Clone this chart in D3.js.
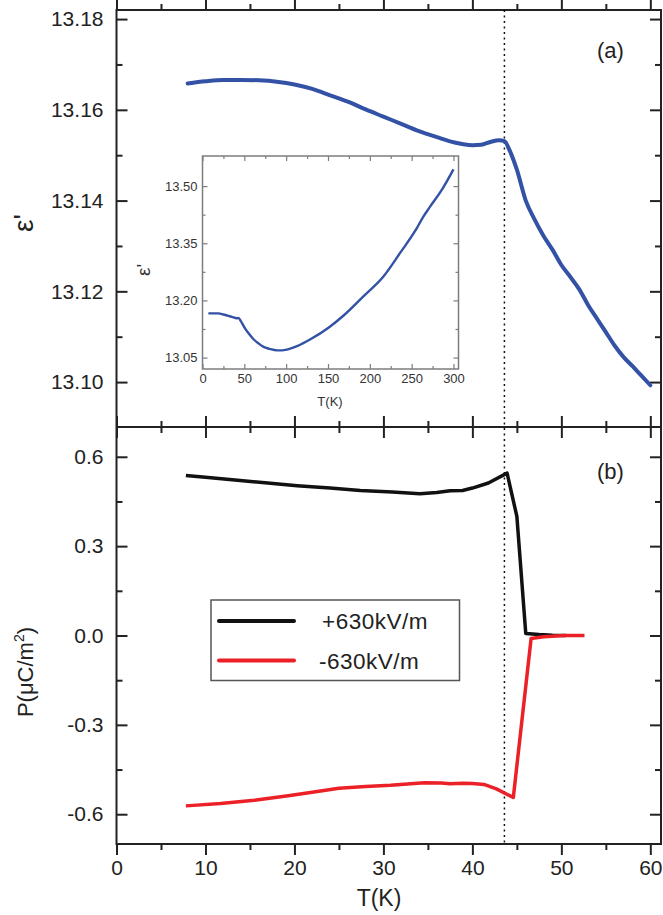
<!DOCTYPE html>
<html><head><meta charset="utf-8">
<script src="https://cdn.jsdelivr.net/npm/d3@7"></script>
<style>html,body{margin:0;padding:0;background:#fff;}svg{display:block;font-family:"Liberation Sans",Arial,sans-serif;}</style>
</head><body>
<svg id="c" width="663" height="915"></svg>
<script>
// ---- data ----
const epsT   = [8,10,12,14,16,18,20,22,24,26,28,30,32,34,36,38,39,40,41,42,43,43.6,44.2,45,46,47,48,49,50,51,52,53,54,55,56,57,58,59,60];
const epsVal = [13.1658,13.1663,13.1666,13.1666,13.1665,13.1662,13.1656,13.1646,13.1632,13.1618,13.1601,13.1585,13.1569,13.1553,13.1540,13.1528,13.1524,13.1522,13.1523,13.1529,13.1533,13.1531,13.1510,13.1468,13.1400,13.1358,13.1322,13.1292,13.1258,13.1232,13.1205,13.1170,13.1140,13.1110,13.1080,13.1055,13.1035,13.1014,13.0993];

const insetT   = [7,12,19,25,30,35,41,43,46,51,56,61,67,73,80,89,95,101,113,129,151,169,192,216,236,256,264,272,286,300];
const insetVal = [13.166,13.166,13.166,13.163,13.160,13.157,13.153,13.154,13.145,13.126,13.111,13.098,13.087,13.078,13.073,13.069,13.069,13.071,13.080,13.098,13.129,13.161,13.210,13.262,13.324,13.389,13.420,13.446,13.490,13.544];

const plusT   = [7.8,10,13.6,17,20.3,24,27.4,31,34.1,36,37.5,38.9,40,41.8,43.9,45,46.0,47.5,49,50.5];
const plusVal = [0.537,0.531,0.521,0.512,0.503,0.495,0.487,0.482,0.476,0.480,0.486,0.487,0.495,0.512,0.545,0.40,0.007,0.003,0.001,0.0];

const minusT   = [7.8,11.7,15.5,19.3,22,25,28,30.8,34.6,36.5,37.5,38.9,40,41.3,42.7,44.6,46.6,48,50.4,52.6];
const minusVal = [-0.572,-0.564,-0.553,-0.538,-0.526,-0.513,-0.507,-0.503,-0.494,-0.495,-0.498,-0.496,-0.497,-0.500,-0.515,-0.544,-0.010,-0.004,0.0,0.0];

const xMajor = [0,10,20,30,40,50,60];
const xMinor = [5,15,25,35,45,55];
const yTopMajor = [13.10,13.12,13.14,13.16,13.18];
const yTopMinor = [13.11,13.13,13.15,13.17];
const yBotMajor = [-0.6,-0.3,0,0.3,0.6];
const yBotMinor = [-0.45,-0.15,0.15,0.45];
const xiMajor = [0,50,100,150,200,250,300];
const xiMinor = [25,75,125,175,225,275];
const yiMajor = [13.05,13.20,13.35,13.50];
const yiMinor = [13.125,13.275,13.425];
const legendLabels = ["+630kV/m","-630kV/m"];
const transitionT = 43.6;

// ---- scales ----
const svg = d3.select("#c");
const x = d3.scaleLinear([0,61.2],[116.5,661]);
const yTop = d3.scaleLinear([13.0901,13.182],[427,10]);
const yBot = d3.scaleLinear([-0.7,0.7],[844,427]);
const xi = d3.scaleLinear([0,306],[202.5,458.5]);
const yi = d3.scaleLinear([13.02,13.579],[369,156]);

const axisCol = "#222";
function axisG(gen, tx, ty){
  const g = svg.append("g").attr("transform",`translate(${tx},${ty})`).call(gen);
  g.select(".domain").remove();
  g.selectAll("line").attr("stroke",axisCol).attr("stroke-width",2);
  g.selectAll("text").attr("fill",axisCol).style("font-family",'"Liberation Sans",Arial,sans-serif');
  return g;
}
function ticks(gen, vals, size){
  return gen.tickValues(vals).tickSize(size).tickFormat(()=>"");
}
const fmt2 = d=>d.toFixed(2), fmt1 = d=>d.toFixed(1), fmt0 = d=>String(d);

// main x axes
[[10,"down"],[427,"up"],[427,"down"],[844,"up"]].forEach(([yy,dir],i)=>{
  const mk = ()=> dir==="down" ? d3.axisBottom(x) : d3.axisTop(x);
  axisG(ticks(mk(),xMajor,-11),0,yy);
  axisG(ticks(mk(),xMinor,-6),0,yy);
});
const gxl = axisG(d3.axisBottom(x).tickValues(xMajor).tickSize(0).tickPadding(16).tickFormat(fmt0),0,844);
gxl.selectAll("text").attr("font-size",21);
// main y axes
function yAxes(scale, major, minor, fmt){
  const gl = axisG(d3.axisLeft(scale).tickValues(major).tickSize(-11).tickPadding(13).tickFormat(fmt),116.5,0);
  gl.selectAll("text").attr("font-size",21);
  axisG(d3.axisLeft(scale).tickValues(minor).tickSize(-6).tickFormat(()=>""),116.5,0);
  axisG(d3.axisRight(scale).tickValues(major).tickSize(-11).tickFormat(()=>""),661,0);
  axisG(d3.axisRight(scale).tickValues(minor).tickSize(-6).tickFormat(()=>""),661,0);
}
yAxes(yTop,yTopMajor,yTopMinor,fmt2);
yAxes(yBot,yBotMajor,yBotMinor,fmt1);

// frames
svg.append("rect").attr("x",116.5).attr("y",10).attr("width",661-116.5).attr("height",844-10)
  .attr("fill","none").attr("stroke",axisCol).attr("stroke-width",2);
svg.append("line").attr("x1",116.5).attr("x2",661).attr("y1",427).attr("y2",427).attr("stroke",axisCol).attr("stroke-width",2);

// dotted transition line
svg.append("line").attr("x1",x(transitionT)).attr("x2",x(transitionT)).attr("y1",10).attr("y2",844)
  .attr("stroke","#111").attr("stroke-width",1.5).attr("stroke-dasharray","2,3.5");

// main curves
const lineTop = d3.line().x(d=>x(d[0])).y(d=>yTop(d[1])).curve(d3.curveMonotoneX);
svg.append("path").datum(d3.zip(epsT,epsVal)).attr("d",lineTop)
  .attr("fill","none").attr("stroke","#3352a6").attr("stroke-width",4).attr("stroke-linejoin","round").attr("stroke-linecap","round");

const lineBot = d3.line().x(d=>x(d[0])).y(d=>yBot(d[1]));
svg.append("path").datum(d3.zip(plusT,plusVal)).attr("d",lineBot)
  .attr("fill","none").attr("stroke","#111").attr("stroke-width",3.5).attr("stroke-linejoin","round");
svg.append("path").datum(d3.zip(minusT,minusVal)).attr("d",lineBot)
  .attr("fill","none").attr("stroke","#ec2127").attr("stroke-width",3.5).attr("stroke-linejoin","round");

// panel labels
svg.append("text").attr("x",597).attr("y",58).attr("font-size",22).attr("fill",axisCol).text("(a)");
svg.append("text").attr("x",597).attr("y",479).attr("font-size",22).attr("fill",axisCol).text("(b)");

// axis titles
svg.append("text").attr("transform","translate(33,223) rotate(-90)").attr("text-anchor","middle")
  .attr("font-size",28).attr("fill",axisCol).text("ε'");
const pt = svg.append("text").attr("transform","translate(33,672) rotate(-90)").attr("text-anchor","middle")
  .attr("font-size",22).attr("fill",axisCol);
pt.append("tspan").text("P(μC/m");
pt.append("tspan").attr("font-size",14).attr("dy",-9).text("2");
pt.append("tspan").attr("dy",9).text(")");
svg.append("text").attr("x",379).attr("y",906).attr("text-anchor","middle").attr("font-size",23).attr("fill",axisCol).text("T(K)");

// legend
const lg = svg.append("g");
lg.append("rect").attr("x",211).attr("y",600).attr("width",248.5).attr("height",80.5)
  .attr("fill","#fff").attr("stroke","#555").attr("stroke-width",1.5);
[["#111",621],["#ec2127",660.5]].forEach(([c,yy],i)=>{
  lg.append("line").attr("x1",219).attr("x2",294).attr("y1",yy).attr("y2",yy)
    .attr("stroke",c).attr("stroke-width",4).attr("stroke-linecap","round");
  lg.append("text").attr("x",i===0?322:319).attr("y",yy+8).attr("font-size",22.5)
    .attr("letter-spacing","0.5px").attr("fill",axisCol).text(legendLabels[i]);
});

// ---- inset ----
const icol = "#7d7d7d";
function iaxis(gen, tx, ty){
  const g = svg.append("g").attr("transform",`translate(${tx},${ty})`).call(gen);
  g.select(".domain").remove();
  g.selectAll("line").attr("stroke",icol).attr("stroke-width",1.2);
  g.selectAll("text").attr("fill","#333").attr("font-size",13).style("font-family",'"Liberation Sans",Arial,sans-serif');
  return g;
}
iaxis(d3.axisBottom(xi).tickValues(xiMajor).tickSize(-5).tickPadding(5).tickFormat(fmt0),0,369);
iaxis(d3.axisBottom(xi).tickValues(xiMinor).tickSize(-3).tickFormat(()=>""),0,369);
iaxis(d3.axisTop(xi).tickValues(xiMajor).tickSize(-5).tickFormat(()=>""),0,156);
iaxis(d3.axisTop(xi).tickValues(xiMinor).tickSize(-3).tickFormat(()=>""),0,156);
iaxis(d3.axisLeft(yi).tickValues(yiMajor).tickSize(-5).tickPadding(5).tickFormat(fmt2),202.5,0);
iaxis(d3.axisLeft(yi).tickValues(yiMinor).tickSize(-3).tickFormat(()=>""),202.5,0);
iaxis(d3.axisRight(yi).tickValues(yiMajor).tickSize(-5).tickFormat(()=>""),458.5,0);
iaxis(d3.axisRight(yi).tickValues(yiMinor).tickSize(-3).tickFormat(()=>""),458.5,0);
svg.append("rect").attr("x",202.5).attr("y",156).attr("width",256).attr("height",213)
  .attr("fill","none").attr("stroke",icol).attr("stroke-width",1.5);
const lineI = d3.line().x(d=>xi(d[0])).y(d=>yi(d[1])).curve(d3.curveMonotoneX);
svg.append("path").datum(d3.zip(insetT,insetVal)).attr("d",lineI)
  .attr("fill","none").attr("stroke","#3352a6").attr("stroke-width",2.4).attr("stroke-linejoin","round");
svg.append("text").attr("x",330).attr("y",406).attr("text-anchor","middle").attr("font-size",13).attr("fill","#333").text("T(K)");
svg.append("text").attr("transform","translate(150,270) rotate(-90)").attr("text-anchor","middle")
  .attr("font-size",19).attr("fill","#333").text("ε'");
</script>
</body></html>
